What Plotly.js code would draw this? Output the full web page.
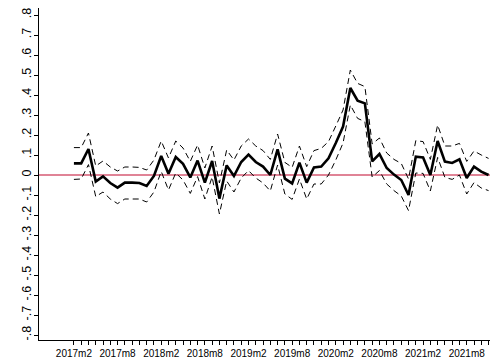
<!DOCTYPE html>
<html>
<head>
<meta charset="utf-8">
<script src="https://cdn.plot.ly/plotly-3.0.1.min.js"></script>
<style>html,body{margin:0;padding:0;background:#fff;}#chart{width:500px;height:360px;}</style>
</head>
<body>
<div id="chart"></div>
<script>
const months = [
  "2017m2","2017m3","2017m4","2017m5","2017m6","2017m7","2017m8","2017m9","2017m10","2017m11","2017m12",
  "2018m1","2018m2","2018m3","2018m4","2018m5","2018m6","2018m7","2018m8","2018m9","2018m10","2018m11","2018m12",
  "2019m1","2019m2","2019m3","2019m4","2019m5","2019m6","2019m7","2019m8","2019m9","2019m10","2019m11","2019m12",
  "2020m1","2020m2","2020m3","2020m4","2020m5","2020m6","2020m7","2020m8","2020m9","2020m10","2020m11","2020m12",
  "2021m1","2021m2","2021m3","2021m4","2021m5","2021m6","2021m7","2021m8","2021m9","2021m10","2021m11"
];
const estimate = [
  0.058, 0.058, 0.13, -0.033, -0.007, -0.04, -0.063, -0.038, -0.038, -0.04, -0.055,
  -0.005, 0.095, 0.006, 0.09, 0.056, -0.012, 0.072, -0.038, 0.07, -0.118, 0.048, -0.005,
  0.065, 0.102, 0.065, 0.042, 0.0, 0.128, -0.018, -0.042, 0.062, -0.038, 0.038, 0.042,
  0.083, 0.16, 0.242, 0.435, 0.372, 0.358, 0.068, 0.105, 0.035, 0.002, -0.025, -0.1,
  0.092, 0.088, 0.0, 0.17, 0.067, 0.06, 0.078, -0.015, 0.042, 0.017, 0.0
];
const upper = [
  0.137, 0.137, 0.21, 0.045, 0.07, 0.04, 0.02, 0.04, 0.04, 0.038, 0.025,
  0.075, 0.17, 0.085, 0.17, 0.135, 0.068, 0.15, 0.035, 0.145, -0.04, 0.125, 0.075,
  0.145, 0.18, 0.145, 0.122, 0.078, 0.205, 0.063, 0.038, 0.145, 0.042, 0.122, 0.133,
  0.167, 0.245, 0.325, 0.525, 0.458, 0.442, 0.155, 0.185, 0.11, 0.078, 0.058, -0.02,
  0.172, 0.167, 0.078, 0.25, 0.145, 0.145, 0.158, 0.068, 0.12, 0.1, 0.083
];
const lower = [
  -0.022, -0.02, 0.052, -0.108, -0.085, -0.12, -0.143, -0.12, -0.12, -0.12, -0.135,
  -0.085, 0.018, -0.075, 0.01, -0.025, -0.092, -0.008, -0.12, -0.01, -0.195, -0.03, -0.085,
  -0.015, 0.022, -0.015, -0.04, -0.08, 0.05, -0.095, -0.122, -0.02, -0.12, -0.045, -0.045,
  0.0, 0.075, 0.16, 0.35, 0.283, 0.267, -0.01, 0.022, -0.045, -0.078, -0.105, -0.178,
  0.01, 0.008, -0.08, 0.088, -0.012, -0.022, 0.0, -0.095, -0.038, -0.065, -0.078
];
const xLabelMonths = ["2017m2","2017m8","2018m2","2018m8","2019m2","2019m8","2020m2","2020m8","2021m2","2021m8"];
const yTickVals = [-0.8,-0.7,-0.6,-0.5,-0.4,-0.3,-0.2,-0.1,0,0.1,0.2,0.3,0.4,0.5,0.6,0.7,0.8];
const yTickText = ["-.8","-.7","-.6","-.5","-.4","-.3","-.2","-.1","0",".1",".2",".3",".4",".5",".6",".7",".8"];

const xTickText = months.map(m => xLabelMonths.includes(m) ? m : "");

const dashStyle = {color: "#000", width: 1, dash: "6px,4px"};
const traces = [
  {x: months, y: upper, type: "scatter", mode: "lines", line: dashStyle, hoverinfo: "skip"},
  {x: months, y: lower, type: "scatter", mode: "lines", line: dashStyle, hoverinfo: "skip"},
  {x: months, y: estimate, type: "scatter", mode: "lines", line: {color: "#000", width: 2.6}}
];

const layout = {
  width: 500, height: 360,
  margin: {l: 39, r: 10, t: 8, b: 20},
  paper_bgcolor: "#fff", plot_bgcolor: "#fff",
  showlegend: false,
  font: {family: "Liberation Sans, Arial, sans-serif", size: 10.5, color: "#000"},
  xaxis: {
    type: "category",
    categoryarray: months,
    range: [-4.8, 57.2],
    tickmode: "array", tickvals: months, ticktext: xTickText,
    ticks: "outside", ticklen: 4, tickwidth: 1, tickcolor: "#000",
    showline: true, linecolor: "#000", linewidth: 1,
    showgrid: false, zeroline: false, tickangle: 0,
    ticklabelstandoff: 0,
    tickfont: {size: 10}
  },
  yaxis: {
    range: [-0.825, 0.835],
    tickmode: "array", tickvals: yTickVals, ticktext: yTickText,
    ticks: "outside", ticklen: 4, tickwidth: 1, tickcolor: "#000",
    showline: true, linecolor: "#000", linewidth: 1,
    showgrid: false, zeroline: false, tickangle: -90,
    ticklabelstandoff: -2,
    tickfont: {size: 12.5}
  },
  shapes: [
    {type: "line", xref: "paper", x0: 0, x1: 1, yref: "y", y0: 0, y1: 0,
     line: {color: "#d65a73", width: 1.6}, layer: "below"}
  ]
};

Plotly.newPlot("chart", traces, layout, {staticPlot: true, displayModeBar: false});
</script>
</body>
</html>
